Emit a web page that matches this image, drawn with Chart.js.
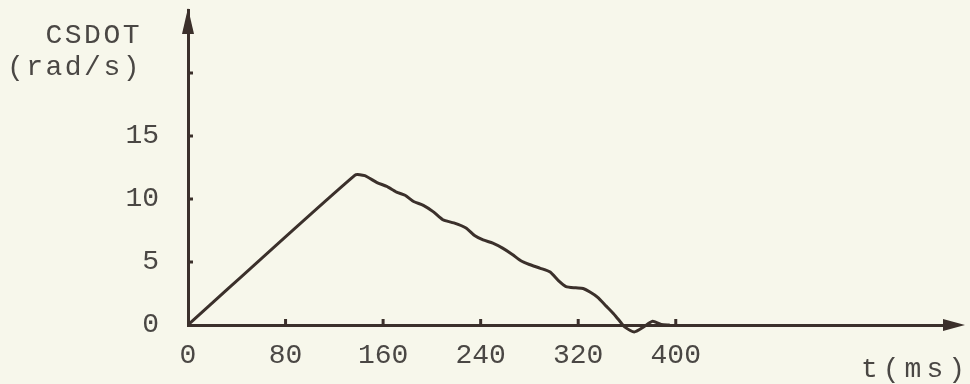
<!DOCTYPE html>
<html>
<head>
<meta charset="utf-8">
<script src="https://cdn.jsdelivr.net/npm/chart.js@4.4.0/dist/chart.umd.min.js"></script>
<style>
  html, body { margin: 0; padding: 0; background: #f7f7eb; }
  #wrap { width: 970px; height: 384px; position: relative; }
</style>
</head>
<body>
<div id="wrap"><canvas id="chart"></canvas></div>
<script>
// t (ms) and CSDOT (rad/s)
const timeMs = [0, 137, 145, 155, 163, 171, 178, 185, 193, 201, 209, 218, 228, 235, 242, 250, 258, 266, 273, 280, 289, 297, 304, 310, 318, 324, 330, 336, 343, 349, 355, 358, 366, 373, 381, 388, 395];
const csdot = [0, 11.9, 11.85, 11.3, 11.0, 10.55, 10.3, 9.8, 9.5, 9.0, 8.35, 8.1, 7.7, 7.1, 6.75, 6.5, 6.1, 5.6, 5.1, 4.8, 4.5, 4.2, 3.5, 3.05, 2.95, 2.9, 2.6, 2.2, 1.5, 0.9, 0.2, -0.15, -0.55, -0.2, 0.3, 0.05, 0];

const xTicks = [0, 80, 160, 240, 320, 400];
const yTicks = [0, 5, 10, 15, 20];
const yTickLabels = ['0', '5', '10', '15', ''];

const ink = '#3b302b';
const textColor = '#4a4744';
const font = { family: "'Liberation Mono', monospace", size: 28 };

const axisDecor = {
  id: 'axisDecor',
  afterDraw(chart) {
    const ctx = chart.ctx;
    const xs = chart.scales.x, ys = chart.scales.y;
    const x0 = xs.getPixelForValue(0), y0 = ys.getPixelForValue(0);
    ctx.save();
    ctx.strokeStyle = ink;
    ctx.fillStyle = ink;
    ctx.lineWidth = 3;
    // small tick marks inside the axes
    yTicks.slice(1).forEach(v => {
      const py = ys.getPixelForValue(v);
      ctx.beginPath(); ctx.moveTo(x0, py); ctx.lineTo(x0 + 5, py); ctx.stroke();
    });
    xTicks.slice(1).forEach(v => {
      const px = xs.getPixelForValue(v);
      ctx.beginPath(); ctx.moveTo(px, y0); ctx.lineTo(px, y0 - 6); ctx.stroke();
    });
    // arrow heads
    const top = chart.chartArea.top;
    ctx.beginPath();
    ctx.moveTo(x0, top - 2); ctx.lineTo(x0 - 6, top + 24); ctx.lineTo(x0 + 6, top + 24);
    ctx.closePath(); ctx.fill();
    const right = chart.chartArea.right;
    ctx.beginPath();
    ctx.moveTo(right + 10, y0); ctx.lineTo(right - 12, y0 - 6); ctx.lineTo(right - 12, y0 + 6);
    ctx.closePath(); ctx.fill();
    // axis titles
    ctx.fillStyle = textColor;
    ctx.font = "28px 'Liberation Mono', monospace";
    ctx.textAlign = 'right';
    ctx.textBaseline = 'alphabetic';
    ctx.letterSpacing = '2.5px';
    ctx.fillText('CSDOT', 142, 43);
    ctx.fillText('(rad/s)', 142, 75);
    ctx.letterSpacing = '5px';
    ctx.fillText('t(ms)', 970, 377);
    ctx.restore();
  }
};

new Chart(document.getElementById('chart'), {
  type: 'line',
  data: {
    datasets: [{
      data: timeMs.map((t, i) => ({ x: t, y: csdot[i] })),
      borderColor: ink,
      borderWidth: 3,
      pointRadius: 0,
      tension: 0.2,
      clip: false
    }]
  },
  options: {
    responsive: true,
    maintainAspectRatio: false,
    animation: false,
    layout: { padding: { top: 10, right: 15, left: 0, bottom: 0 } },
    plugins: { legend: { display: false }, tooltip: { enabled: false } },
    scales: {
      x: {
        type: 'linear',
        min: 0,
        max: 629,
        afterBuildTicks: scale => { scale.ticks = xTicks.map(v => ({ value: v })); },
        afterFit: scale => { scale.height = 59; scale.paddingLeft = 0; scale.paddingRight = 0; },
        grid: { display: false, drawTicks: false },
        border: { display: true, color: ink, width: 3 },
        ticks: { font: font, color: textColor, padding: 14, maxRotation: 0, autoSkip: false }
      },
      y: {
        min: 0,
        max: 25,
        afterBuildTicks: scale => { scale.ticks = yTicks.map(v => ({ value: v })); },
        afterFit: scale => { scale.width = 188; scale.paddingTop = 0; scale.paddingBottom = 0; },
        grid: { display: false, drawTicks: false },
        border: { display: true, color: ink, width: 3 },
        ticks: {
          font: font, color: textColor, padding: 29, autoSkip: false,
          callback: (v) => yTickLabels[yTicks.indexOf(v)]
        }
      }
    }
  },
  plugins: [axisDecor]
});
</script>
</body>
</html>
